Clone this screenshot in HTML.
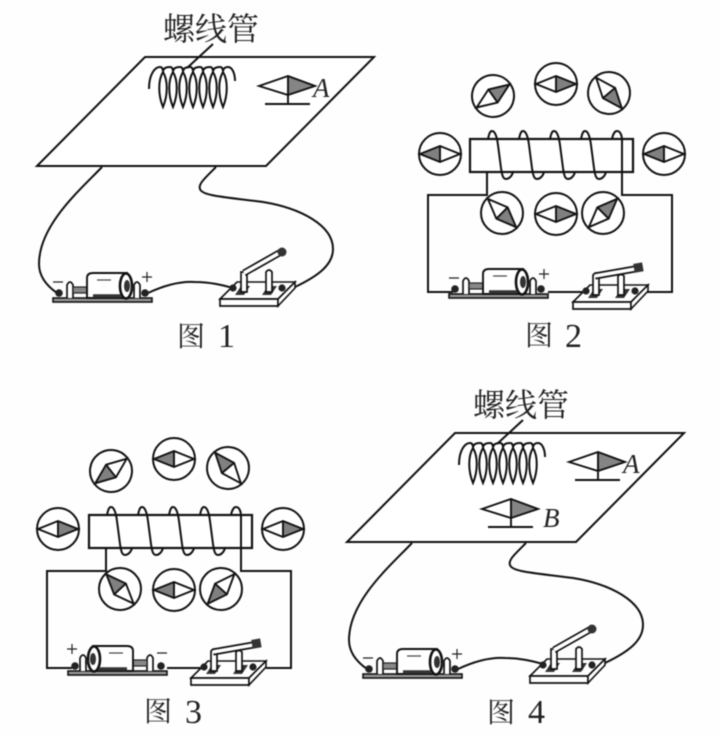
<!DOCTYPE html>
<html>
<head>
<meta charset="utf-8">
<style>
html,body{margin:0;padding:0;background:#fefefe;width:720px;height:738px;overflow:hidden}
svg{display:block;filter:blur(.4px)}
text{fill:#222}
.cjk{font-family:"Liberation Serif","Noto Serif CJK SC",serif}
.it{font-family:"Liberation Serif",serif;font-style:italic;font-size:27px}
.num{font-family:"Liberation Serif",serif;font-size:34px}
.w{fill:none;stroke:#111;stroke-width:2}
</style>
</head>
<body>
<svg width="720" height="738" viewBox="0 0 720 738" xmlns="http://www.w3.org/2000/svg">
<defs>
  <g id="n">
    <circle r="21" fill="#fff" stroke="#111" stroke-width="2"/>
    <path d="M0,-8L20,0L0,8Z" fill="#808080"/>
    <path d="M-20,0L0,-8L20,0L0,8Z M0,-8V8" fill="none" stroke="#111" stroke-width="1.9"/>
  </g>
  <g id="stand">
    <path d="M0,-10L27,0L0,9Z" fill="#858585"/>
    <path d="M-29,0L0,-10L27,0L0,9Z M0,-10V17 M-23,18H22" fill="none" stroke="#111" stroke-width="1.9"/>
  </g>
  <path id="lens" d="M163,107C158,95 158,80 163,72C168,80 168,95 163,107Z" fill="none" stroke="#111" stroke-width="2"/>
  <g id="batt">
    <rect x="0" y="0" width="99" height="4" fill="#999" stroke="#111" stroke-width="1.6"/>
    <circle cx="6" cy="-5" r="3.8" fill="#222"/>
    <circle cx="92" cy="-5" r="3.8" fill="#222"/>
    <path d="M14,0V-13Q17,-19 20,-13V0" fill="#fff" stroke="#111" stroke-width="1.7"/>
    <rect x="20" y="-11" width="14" height="6" fill="#888" stroke="#222" stroke-width="1.2"/>
    <path d="M81,0V-13Q84,-19 87,-13V0" fill="#fff" stroke="#111" stroke-width="1.7"/>
    <path d="M34,0V-20Q34,-25 40,-25H68L74,-25V0Z" fill="#fff" stroke="#111" stroke-width="1.9"/>
    <ellipse cx="73" cy="-12" rx="6" ry="12.5" fill="#fff" stroke="#111" stroke-width="2.6"/>
    <ellipse cx="74" cy="-12" rx="3" ry="6" fill="#333"/>
    <path d="M78,-9H82" stroke="#222" stroke-width="4"/>
    <path d="M40,-2H68" stroke="#333" stroke-width="3.5"/>
    <path d="M44,-18H58" stroke="#444" stroke-width="1.2"/>
  </g>
  <g id="base">
    <path d="M0,0L17,-17H75L58,0Z" fill="#fff" stroke="#111" stroke-width="1.6"/>
    <path d="M0,0H58V7H0Z" fill="#fff" stroke="#111" stroke-width="1.7"/>
    <path d="M58,0L75,-17V-11L58,7Z" fill="#fff" stroke="#111" stroke-width="1.6"/>
    <path d="M15,-4L21,-13H30L24,-4Z M42,-4L48,-13H57L51,-4Z" fill="#333"/>
    <circle cx="13" cy="-11" r="3.6" fill="#222"/>
    <circle cx="62" cy="-11" r="3.6" fill="#222"/>
  </g>
  <g id="sw1">
    <use href="#base"/>
    <path d="M21,-7V-27H27V-7Z M46,-7V-27Q49,-31 52,-27V-7Z" fill="#fff" stroke="#111" stroke-width="1.7"/>
    <path d="M24,-26L61,-47" stroke="#111" stroke-width="7"/>
    <path d="M24,-26L61,-47" stroke="#fff" stroke-width="3.6"/>
    <circle cx="62" cy="-47" r="4.5" fill="#333"/>
  </g>
  <g id="sw2">
    <use href="#base"/>
    <path d="M20,-7V-27Q23,-31 26,-27V-7Z M45,-7V-26Q48,-29 51,-26V-7Z" fill="#fff" stroke="#111" stroke-width="1.7"/>
    <path d="M22,-26L62,-33" stroke="#111" stroke-width="7"/>
    <path d="M22,-26L62,-33" stroke="#fff" stroke-width="3.6"/>
    <rect x="61" y="-39" width="9" height="9" fill="#333" transform="rotate(-10 66 -34)"/>
  </g>
  <path id="turn" class="w" d="M488,139C489,134 490,131 492,131C495,131 497,137 498,145L501,168C502,175 503,179 506,179C509,179 512,176 513,172"/>
  <g id="sol">
    <rect x="470" y="139" width="163" height="33" fill="#fff" stroke="#111" stroke-width="2.2"/>
    <use href="#turn"/><use href="#turn" x="31"/><use href="#turn" x="62"/><use href="#turn" x="93"/>
    <path class="w" d="M612,139C613,134 615,131 617,131C620,131 622,135 622,140V195H672V292H647"/>
    <path class="w" d="M487,172V195H428V292H453"/>
    <path class="w" d="M548,292H585"/>
  </g>
  <g id="plane">
    <path d="M145,57H374L266,166H37Z" fill="#fff" stroke="#111" stroke-width="2"/>
    <path class="w" d="M213,44L187,68"/>
    <path class="w" d="M149,89C149,74 155,67 160,67c2,0 3,2 3,5c0,-3 2,-5 7,-5c2,0 3,2 3,5c0,-3 2,-5 7,-5c2,0 3,2 3,5c0,-3 2,-5 7,-5c2,0 3,2 3,5c0,-3 2,-5 7,-5c2,0 3,2 3,5c0,-3 2,-5 7,-5c2,0 3,2 3,5c0,-3 2,-5 7,-5c2,0 3,2 3,5c0,-3 2,-5 5,-5c4,0 7,6 7,14"/>
    <use href="#lens"/><use href="#lens" x="10"/><use href="#lens" x="20"/><use href="#lens" x="30"/><use href="#lens" x="40"/><use href="#lens" x="50"/><use href="#lens" x="60"/>
    <use href="#stand" x="288" y="86"/>
    <path class="w" d="M102,167C80,190 39,225 39,264C39,277 47,286 57,293"/>
    <path class="w" d="M216,167C205,178 198,184 200,189C202,196 225,197 263,202C300,208 333,225 333,249C333,265 318,276 295,287"/>
    <path class="w" d="M148,293C165,285 180,281 195,282C210,282 222,285 233,288"/>
  </g>
</defs>

<!-- Figure 1 -->
<use href="#plane"/>
<text class="cjk" x="163" y="40" font-size="32">螺线管</text>
<text class="it" x="313" y="97">A</text>
<use href="#batt" x="53" y="298"/>
<path d="M53,282H63 M142,277H152 M147,272V282" stroke="#222" stroke-width="1.2"/>
<use href="#sw1" x="220" y="299"/>
<text class="cjk" x="177" y="346" font-size="28">图</text>
<text class="num" x="218" y="347">1</text>

<!-- Figure 2 -->
<use href="#sol"/>
<use href="#n" x="493" y="96" transform="rotate(-35 493 96)"/>
<use href="#n" x="556" y="84"/>
<use href="#n" x="609" y="93" transform="rotate(50 609 93)"/>
<use href="#n" x="440" y="154" transform="rotate(180 440 154)"/>
<use href="#n" x="664" y="154" transform="rotate(180 664 154)"/>
<use href="#n" x="502" y="213" transform="rotate(45 502 213)"/>
<use href="#n" x="556" y="214"/>
<use href="#n" x="603" y="213" transform="rotate(-45 603 213)"/>
<use href="#batt" x="449" y="294"/>
<path d="M449,278H459 M539,274H549 M544,269V279" stroke="#222" stroke-width="1.2"/>
<use href="#sw2" x="573" y="302"/>
<text class="cjk" x="525" y="345" font-size="28">图</text>
<text class="num" x="565" y="347">2</text>

<!-- Figure 3 -->
<use href="#sol" transform="translate(-381,376)"/>
<use href="#n" x="111" y="471" transform="rotate(142 111 471)"/>
<use href="#n" x="174" y="459" transform="rotate(180 174 459)"/>
<use href="#n" x="228" y="468" transform="rotate(-130 228 468)"/>
<use href="#n" x="58" y="529"/>
<use href="#n" x="283" y="529"/>
<use href="#n" x="120" y="589" transform="rotate(-133 120 589)"/>
<use href="#n" x="174" y="590" transform="rotate(180 174 590)"/>
<use href="#n" x="221" y="589" transform="rotate(132 221 589)"/>
<use href="#batt" transform="translate(167,671) scale(-1,1)"/>
<path d="M67,649H77 M72,644V654 M157,653H167" stroke="#222" stroke-width="1.2"/>
<use href="#sw2" x="191" y="678"/>
<text class="cjk" x="144" y="721" font-size="28">图</text>
<text class="num" x="185" y="723">3</text>

<!-- Figure 4 -->
<use href="#plane" transform="translate(310,376)"/>
<text class="cjk" x="473" y="416" font-size="32">螺线管</text>
<text class="it" x="623" y="473">A</text>
<use href="#stand" x="511" y="509"/>
<text class="it" x="543" y="527">B</text>
<use href="#batt" x="363" y="674"/>
<path d="M363,658H373 M452,654H462 M457,649V659" stroke="#222" stroke-width="1.2"/>
<use href="#sw1" x="530" y="676"/>
<text class="cjk" x="487" y="722" font-size="28">图</text>
<text class="num" x="528" y="723">4</text>
</svg>
</body>
</html>
